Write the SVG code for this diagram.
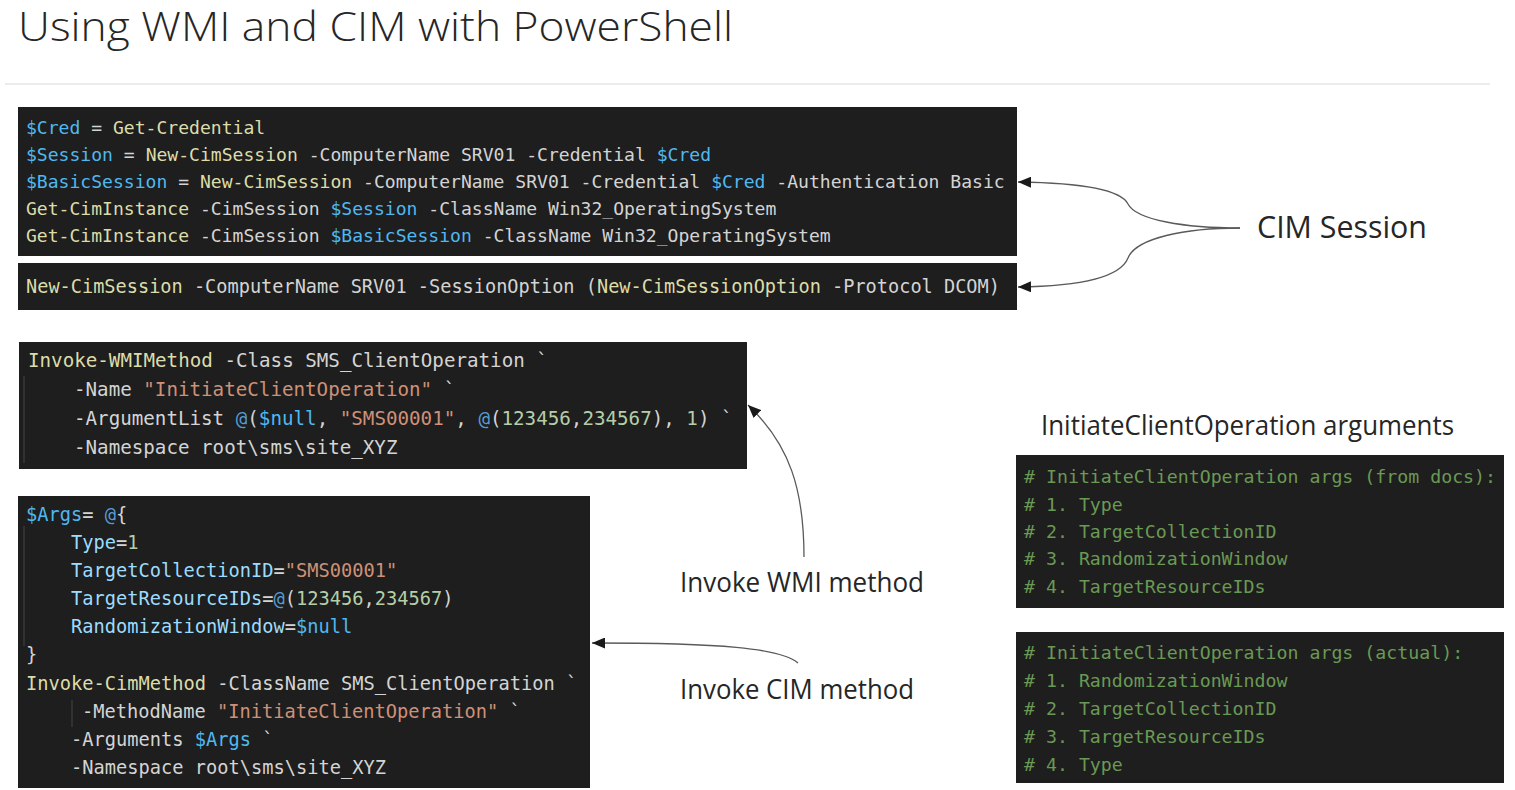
<svg xmlns="http://www.w3.org/2000/svg" width="1515" height="790" viewBox="0 0 1515 790">
<style>
.code{font-family:"DejaVu Sans Mono","Liberation Mono",monospace;fill:#d4d4d4;white-space:pre}
.bg{fill:#1e1e1e}
.v{fill:#4fb8f0}
.p{fill:#9cdcfe}
.f{fill:#dcdcaa}
.s{fill:#ce9178}
.k{fill:#569cd6}
.n{fill:#b5cea8}
.cm{fill:#6a9955}
.lbl{font-family:"Open Sans","Liberation Sans",sans-serif;fill:#262626}
.guide{stroke:#444;stroke-width:1}
.conn{fill:none;stroke:#5a5a5a;stroke-width:1.3}
</style>
<defs>
<marker id="ah" viewBox="0 0 13 11" refX="13" refY="5.5" markerWidth="13" markerHeight="11" markerUnits="userSpaceOnUse" orient="auto">
<path d="M0 0 L13 5.5 L0 11 z" fill="#1a1a1a"/>
</marker>
</defs>
<rect width="1515" height="790" fill="#ffffff"/>
<text class="lbl" x="18" y="41" font-size="40" font-weight="300" textLength="715" lengthAdjust="spacingAndGlyphs">Using WMI and CIM with PowerShell</text>
<line x1="5" y1="84" x2="1490" y2="84" stroke="#ececec" stroke-width="2"/>

<g id="code-cim-sessions">
<rect class="bg" x="18" y="107" width="999" height="149"/>
<text class="code" font-size="18.07">
<tspan x="26" y="134"><tspan class="v">$Cred</tspan> = <tspan class="f">Get-Credential</tspan></tspan>
<tspan x="26" y="161"><tspan class="v">$Session</tspan> = <tspan class="f">New-CimSession</tspan> -ComputerName SRV01 -Credential <tspan class="v">$Cred</tspan></tspan>
<tspan x="26" y="188"><tspan class="v">$BasicSession</tspan> = <tspan class="f">New-CimSession</tspan> -ComputerName SRV01 -Credential <tspan class="v">$Cred</tspan> -Authentication Basic</tspan>
<tspan x="26" y="215"><tspan class="f">Get-CimInstance</tspan> -CimSession <tspan class="v">$Session</tspan> -ClassName Win32_OperatingSystem</tspan>
<tspan x="26" y="242"><tspan class="f">Get-CimInstance</tspan> -CimSession <tspan class="v">$BasicSession</tspan> -ClassName Win32_OperatingSystem</tspan>
</text>
</g>

<g id="code-dcom-session">
<rect class="bg" x="18" y="263" width="999" height="47"/>
<text class="code" font-size="18.6"><tspan x="26" y="293"><tspan class="f">New-CimSession</tspan> -ComputerName SRV01 -SessionOption (<tspan class="f">New-CimSessionOption</tspan> -Protocol DCOM)</tspan></text>
</g>

<g id="code-wmi-method">
<rect class="bg" x="19" y="342" width="728" height="127"/>
<line class="guide" x1="24" y1="376" x2="24" y2="463"/>
<text class="code" font-size="19.2">
<tspan x="28" y="367"><tspan class="f">Invoke-WMIMethod</tspan> -Class SMS_ClientOperation `</tspan>
<tspan x="74" y="396">-Name <tspan class="s">"InitiateClientOperation"</tspan> `</tspan>
<tspan x="74" y="425">-ArgumentList <tspan class="k">@</tspan>(<tspan class="v">$null</tspan>, <tspan class="s">"SMS00001"</tspan>, <tspan class="k">@</tspan>(<tspan class="n">123456</tspan>,<tspan class="n">234567</tspan>), <tspan class="n">1</tspan>) `</tspan>
<tspan x="74" y="454">-Namespace root\sms\site_XYZ</tspan>
</text>
</g>

<g id="code-cim-method">
<rect class="bg" x="18" y="496" width="572" height="292"/>
<line class="guide" x1="24" y1="526" x2="24" y2="646"/>
<line class="guide" x1="72" y1="700" x2="72" y2="727"/>
<text class="code" font-size="18.7">
<tspan x="26" y="521"><tspan class="v">$Args</tspan>= <tspan class="k">@</tspan>{</tspan>
<tspan x="71" y="549"><tspan class="p">Type</tspan>=<tspan class="n">1</tspan></tspan>
<tspan x="71" y="577"><tspan class="p">TargetCollectionID</tspan>=<tspan class="s">"SMS00001"</tspan></tspan>
<tspan x="71" y="605"><tspan class="p">TargetResourceIDs</tspan>=<tspan class="k">@</tspan>(<tspan class="n">123456</tspan>,<tspan class="n">234567</tspan>)</tspan>
<tspan x="71" y="633"><tspan class="p">RandomizationWindow</tspan>=<tspan class="v">$null</tspan></tspan>
<tspan x="26" y="661">}</tspan>
<tspan x="26" y="690"><tspan class="f">Invoke-CimMethod</tspan> -ClassName SMS_ClientOperation `</tspan>
<tspan x="82" y="718">-MethodName <tspan class="s">"InitiateClientOperation"</tspan> `</tspan>
<tspan x="71" y="746">-Arguments <tspan class="v">$Args</tspan> `</tspan>
<tspan x="71" y="774">-Namespace root\sms\site_XYZ</tspan>
</text>
</g>

<g id="label-cim-session">
<text class="lbl" x="1257" y="238" font-size="31" textLength="170" lengthAdjust="spacingAndGlyphs">CIM Session</text>
</g>

<g id="label-args">
<text class="lbl" x="1041" y="435" font-size="27" textLength="413" lengthAdjust="spacingAndGlyphs">InitiateClientOperation arguments</text>
</g>

<g id="label-wmi">
<text class="lbl" x="680" y="592" font-size="27" textLength="244" lengthAdjust="spacingAndGlyphs">Invoke WMI method</text>
</g>

<g id="label-cim">
<text class="lbl" x="680" y="699" font-size="27" textLength="234" lengthAdjust="spacingAndGlyphs">Invoke CIM method</text>
</g>

<g id="code-args-docs">
<rect class="bg" x="1016" y="455" width="488" height="153"/>
<text class="code cm" font-size="18.24">
<tspan x="1024" y="483"># InitiateClientOperation args (from docs):</tspan>
<tspan x="1024" y="511"># 1. Type</tspan>
<tspan x="1024" y="538"># 2. TargetCollectionID</tspan>
<tspan x="1024" y="565"># 3. RandomizationWindow</tspan>
<tspan x="1024" y="593"># 4. TargetResourceIDs</tspan>
</text>
</g>

<g id="code-args-actual">
<rect class="bg" x="1016" y="632" width="488" height="151"/>
<text class="code cm" font-size="18.24">
<tspan x="1024" y="659"># InitiateClientOperation args (actual):</tspan>
<tspan x="1024" y="687"># 1. RandomizationWindow</tspan>
<tspan x="1024" y="715"># 2. TargetCollectionID</tspan>
<tspan x="1024" y="743"># 3. TargetResourceIDs</tspan>
<tspan x="1024" y="771"># 4. Type</tspan>
</text>
</g>

<g id="connectors">
<path class="conn" marker-end="url(#ah)" d="M 1240 228 C 1185 228, 1136 220, 1128 204 C 1122 192, 1095 183, 1018 182"/>
<path class="conn" marker-end="url(#ah)" d="M 1240 228 C 1185 228, 1136 238, 1128 258 C 1122 273, 1095 286, 1018 287"/>
<path class="conn" marker-end="url(#ah)" d="M 804 557 C 804 490, 790 445, 748 405"/>
<path class="conn" marker-end="url(#ah)" d="M 798 663 C 780 648, 720 643, 592 643"/>
</g>
</svg>
